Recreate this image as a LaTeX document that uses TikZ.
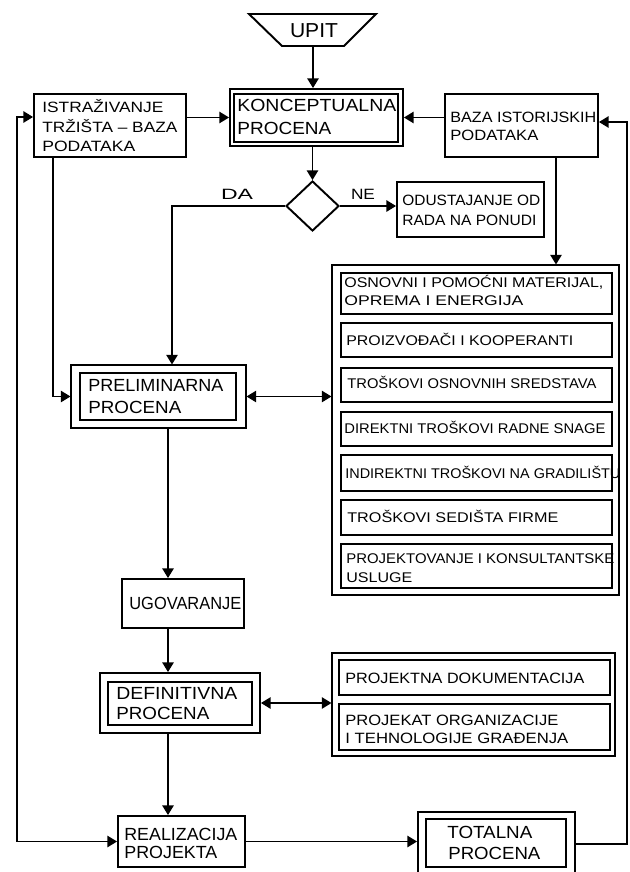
\documentclass[tikz,border=0pt]{standalone}
\usepackage{fontspec}
\setmainfont{Liberation Sans}
\usepackage{graphicx}
\usetikzlibrary{arrows.meta,shapes.geometric}
\newlength\px \setlength\px{0.02cm}
\newcommand\fw[2]{\resizebox{#1\px}{\height}{#2}}
\begin{document}
\begin{tikzpicture}[x=0.02cm,y=-0.02cm,
  bx/.style={draw, line width=1.1pt, inner sep=0pt},
  fr/.style={draw, line width=0.6pt, inner sep=0pt},
  sz/.style 2 args={minimum width=#1*0.02cm, minimum height=#2*0.02cm},
  tm/.style={font=\fontsize{10}{12}\selectfont, inner sep=0pt, anchor=base west},
  ts/.style={font=\fontsize{8.5}{10}\selectfont, inner sep=0pt, anchor=base west},
  tl/.style={font=\fontsize{8}{10}\selectfont, inner sep=0pt, anchor=base west},
  arr/.style={line width=0.8pt, -{Triangle[length=5.5pt,width=6.5pt]}},
  arrb/.style={line width=0.8pt, {Triangle[length=5.5pt,width=6.5pt]}-{Triangle[length=5.5pt,width=6.5pt]}}
]
\useasboundingbox (0,0) rectangle (629,872);
\fill[white] (0,0) rectangle (629,872);

% UPIT
\draw[line width=1.1pt, line join=miter] (249,14) -- (376,14) -- (344,46) -- (282,46) -- cycle;
\node[font=\fontsize{11.5}{13}\selectfont, inner sep=0pt, anchor=base] (upit) at (314,37.3) {\fw{48}{UPIT}};
\coordinate (upb) at (313,46);

% boxes
\node[bx, sz={152}{63}] (istraz) at (110,125.5) {};
\node[bx, sz={173}{57}] (concO) at (316.5,117.5) {};
\node[bx, sz={164}{48}] (conc) at (316,118) {};
\node[bx, sz={153}{63}] (baza) at (521.5,125.5) {};
\node[bx, diamond, sz={53}{50}] (dec) at (312.5,206) {};
\node[bx, sz={147}{55}] (odus) at (470.5,209.5) {};
\node[fr, sz={175}{63}] (prelimO) at (158.5,396.5) {};
\node[bx, sz={156}{47}] (prelim) at (158,396.5) {};
\node[fr, sz={287}{330}] (listO) at (475.5,430) {};
\node[bx, sz={271}{41}] (l1) at (476.5,293.5) {};
\node[bx, sz={271}{34}] (l2) at (476.5,340) {};
\node[bx, sz={271}{34}] (l3) at (476.5,385) {};
\node[bx, sz={271}{34}] (l4) at (476.5,429) {};
\node[bx, sz={271}{36}] (l5) at (476.5,473) {};
\node[bx, sz={271}{35}] (l6) at (476.5,517.5) {};
\node[bx, sz={271}{44}] (l7) at (476.5,566) {};
\node[bx, sz={122}{49}] (ugov) at (183,603.5) {};
\node[bx, sz={160}{60}] (defO) at (180,703) {};
\node[bx, sz={144}{43}] (def) at (180,703.5) {};
\node[fr, sz={283}{103}] (projO) at (473.5,704.5) {};
\node[bx, sz={271}{35}] (p1) at (474.5,677.5) {};
\node[bx, sz={271}{46}] (p2) at (474.5,727) {};
\node[bx, sz={127}{51}] (real) at (181.5,841.5) {};
\node[bx, sz={157}{64}] (totO) at (496.5,844) {};
\node[bx, sz={140}{48}] (tot) at (496,843) {};

% texts
\node[tm] (conc-1) at (237,111.3) {\fw{159}{KONCEPTUALNA}};
\node[tm] (conc-2) at (237,134.3) {\fw{94}{PROCENA}};
\node[ts] (istraz-1) at (42,112.4) {\fw{121}{ISTRAŽIVANJE}};
\node[ts] (istraz-2) at (42,132.4) {\fw{135}{TRŽIŠTA – BAZA}};
\node[ts] (istraz-3) at (42,151.4) {\fw{93}{PODATAKA}};
\node[ts] (baza-1) at (450,122.4) {\fw{146}{BAZA ISTORIJSKIH}};
\node[ts] (baza-2) at (450,140.4) {\fw{88}{PODATAKA}};
\node[ts, anchor=base] (da) at (237,199) {\fw{32}{DA}};
\node[ts, anchor=base] (ne) at (363,199) {\fw{24}{NE}};
\node[ts] (odus-1) at (402,205.4) {\fw{138}{ODUSTAJANJE OD}};
\node[ts] (odus-2) at (402,225.4) {\fw{134}{RADA NA PONUDI}};
\node[tm] (prelim-1) at (88,391.3) {\fw{135}{PRELIMINARNA}};
\node[tm] (prelim-2) at (88,413.3) {\fw{93}{PROCENA}};
\node[tl] (l1-1) at (344,287) {\fw{259}{OSNOVNI I POMOĆNI MATERIJAL,}};
\node[tl] (l1-2) at (344,305) {\fw{179}{OPREMA I ENERGIJA}};
\node[tl] (l2-1) at (346,345) {\fw{227}{PROIZVOĐAČI I KOOPERANTI}};
\node[tl] (l3-1) at (347,388) {\fw{249}{TROŠKOVI OSNOVNIH SREDSTAVA}};
\node[tl] (l4-1) at (344,433) {\fw{261}{DIREKTNI TROŠKOVI RADNE SNAGE}};
\node[tl] (l5-1) at (345,478) {\fw{275}{INDIREKTNI TROŠKOVI NA GRADILIŠTU}};
\node[tl] (l6-1) at (347,522) {\fw{211}{TROŠKOVI SEDIŠTA FIRME}};
\node[tl] (l7-1) at (346,563) {\fw{268}{PROJEKTOVANJE I KONSULTANTSKE}};
\node[tl] (l7-2) at (346,582) {\fw{66}{USLUGE}};
\node[tm] (ugov-1) at (129,609.3) {\fw{112}{UGOVARANJE}};
\node[tm] (def-1) at (116,699.3) {\fw{121}{DEFINITIVNA}};
\node[tm] (def-2) at (116,719.3) {\fw{93}{PROCENA}};
\node[ts] (p1-1) at (345,683.4) {\fw{239}{PROJEKTNA DOKUMENTACIJA}};
\node[ts] (p2-1) at (345,725.4) {\fw{213}{PROJEKAT ORGANIZACIJE}};
\node[ts] (p2-2) at (345,743.4) {\fw{223}{I TEHNOLOGIJE GRAĐENJA}};
\node[tm] (real-1) at (124,840.3) {\fw{113}{REALIZACIJA}};
\node[tm] (real-2) at (124,858.3) {\fw{93}{PROJEKTA}};
\node[tm] (tot-1) at (447,838.3) {\fw{85}{TOTALNA}};
\node[tm] (tot-2) at (448,859.3) {\fw{92}{PROCENA}};

% connectors
\coordinate (daT) at (172,206);
\coordinate (bzx) at (556,0);
\coordinate (rx) at (627,122);
\coordinate (lx) at (17,117);
\coordinate (ix) at (53,0);
\coordinate (cx) at (168,0);
\draw[arr] (upb) -- (upb |- concO.north);
\draw[arr] (istraz.east |- concO.west) -- (concO.west);
\draw[arr] (baza.west |- concO.east) -- (concO.east);
\draw[arr] (concO.south -| dec.north) -- (dec.north);
\draw[arr] (dec.west) -| (daT |- prelimO.north);
\draw[arr] (dec.east) -- (dec.east -| odus.west);
\draw[arr] (bzx |- baza.south) -- (bzx |- listO.north);
\draw[arr] (totO.east) -| (rx) -- (rx -| baza.east);
\draw[arrb] (lx -| istraz.west) -- (lx) |- (real.west);
\draw[arr] (ix |- istraz.south) |- (prelimO.west);
\draw[arrb] (prelimO.east) -- (prelimO.east -| listO.west);
\draw[arr] (cx |- prelimO.south) -- (cx |- ugov.north);
\draw[arr] (cx |- ugov.south) -- (cx |- defO.north);
\draw[arr] (cx |- defO.south) -- (cx |- real.north);
\draw[arrb] (defO.east) -- (defO.east -| projO.west);
\draw[arr] (real.east) -- (real.east -| totO.west);
\end{tikzpicture}
\end{document}
